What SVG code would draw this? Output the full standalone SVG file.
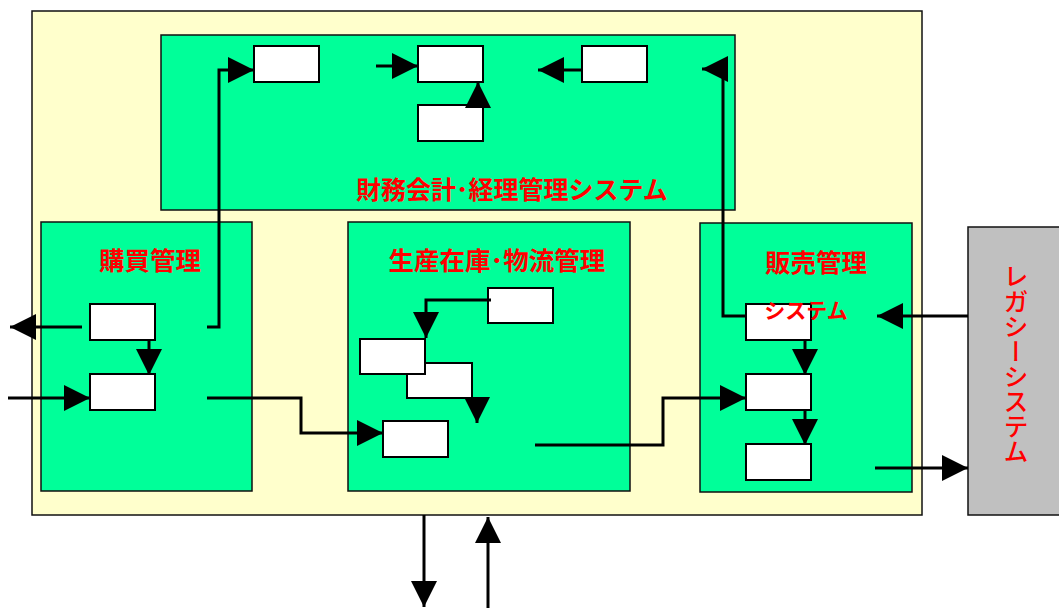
<svg xmlns="http://www.w3.org/2000/svg" width="1059" height="608" viewBox="0 0 1059 608">
<style>
.frame{fill:#FFFFCC;stroke:#111;stroke-width:1.5}
.sys{fill:#00FF99;stroke:#111;stroke-width:1.5}
.box{fill:#FFFFFF;stroke:#000;stroke-width:2}
.legacy{fill:#C0C0C0;stroke:#111;stroke-width:1.5}
.ttl{font-family:"Liberation Sans","Noto Sans CJK JP",sans-serif;font-weight:bold;fill:#FF0000;text-anchor:middle}
.vt{font-family:"Noto Sans CJK JP",sans-serif;fill:#FF0000;font-size:25px;font-weight:500;writing-mode:vertical-rl;text-anchor:middle}
.c{fill:none;stroke:#000;stroke-width:3;marker-end:url(#ah)}
</style>
<defs>
<marker id="ah" markerUnits="userSpaceOnUse" markerWidth="26" markerHeight="26" refX="25" refY="12.5" orient="auto" viewBox="0 0 25 25">
<path d="M0,0 L25,12.5 L0,25 z" fill="#000"/>
</marker>
</defs>
<rect x="0" y="0" width="1059" height="608" fill="#FFFFFF"/>
<g id="frame"><rect class="frame" x="32" y="11" width="890" height="504"/></g>
<g id="finance">
<rect class="sys" x="161" y="35" width="574" height="175"/>
<rect class="box" x="254" y="46" width="65" height="36"/>
<rect class="box" x="418" y="46" width="65" height="36"/>
<rect class="box" x="582" y="46" width="65" height="36"/>
<rect class="box" x="418" y="105" width="65" height="36"/>
<text class="ttl" x="512" y="199" font-size="25">財務会計･経理管理システム</text>
</g>
<g id="purchase">
<rect class="sys" x="41" y="222" width="211" height="269"/>
<rect class="box" x="90" y="304" width="65" height="36"/>
<rect class="box" x="90" y="374" width="65" height="36"/>
<text class="ttl" x="150" y="270" font-size="25.5">購買管理</text>
</g>
<g id="production">
<rect class="sys" x="348" y="222" width="282" height="269"/>
<rect class="box" x="488" y="288" width="65" height="35"/>
<rect class="box" x="407" y="363" width="65" height="35"/>
<rect class="box" x="360" y="339" width="65" height="35"/>
<rect class="box" x="383" y="421" width="65" height="36"/>
<text class="ttl" x="497" y="270" font-size="25.5">生産在庫･物流管理</text>
</g>
<g id="sales">
<rect class="sys" x="700" y="223" width="212" height="269"/>
<rect class="box" x="746" y="304" width="65" height="36"/>
<rect class="box" x="746" y="374" width="65" height="36"/>
<rect class="box" x="746" y="444" width="65" height="36"/>
<text class="ttl" x="816" y="272" font-size="25.5">販売管理</text>
<text class="ttl" x="806" y="318" font-size="21">システム</text>
</g>
<g id="legacy">
<rect class="legacy" x="968" y="227" width="95" height="288"/>
<text class="vt" x="1016" y="364">レガシーシステム</text>
</g>
<g id="connectors">
<path class="c" d="M207,327 H219 V70 H254"/>
<path class="c" d="M376,66 H418"/>
<path class="c" d="M582,70 H538"/>
<path class="c" d="M478,107 V82"/>
<path class="c" d="M746,316 H723 V69 H702"/>
<path class="c" d="M82,327 H10"/>
<path class="c" d="M8,398 H90"/>
<path class="c" d="M149,340 V375"/>
<path class="c" d="M207,398 H301 V433 H383"/>
<path class="c" d="M491,300 H426 V338"/>
<path class="c" d="M477,399 V423"/>
<path class="c" d="M535,445 H663 V398 H746"/>
<path class="c" d="M805,340 V375"/>
<path class="c" d="M805,410 V445"/>
<path class="c" d="M968,316 H877"/>
<path class="c" d="M875,468 H968"/>
<path class="c" d="M424,515 V607"/>
<path class="c" d="M488,608 V517"/>
</g>
</svg>
